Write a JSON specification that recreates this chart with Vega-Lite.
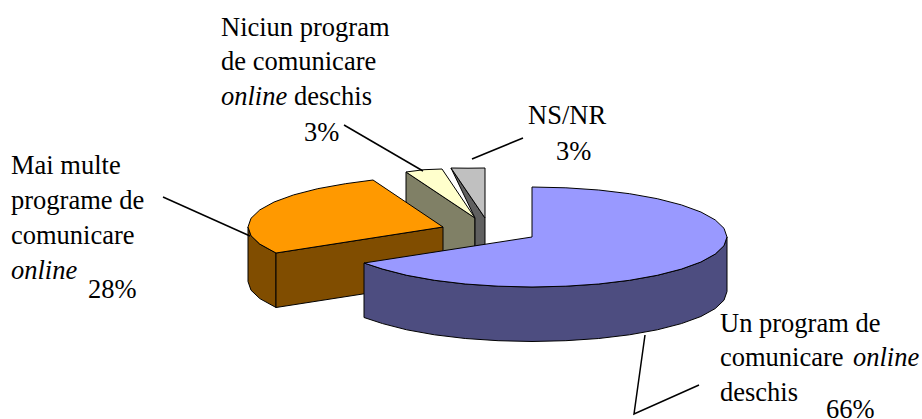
{
  "$schema": "https://vega.github.io/schema/vega-lite/v6.json",
  "width": 922,
  "height": 419,
  "padding": 0,
  "autosize": {"type": "none"},
  "background": "white",
  "config": {"view": {"stroke": null}},
  "datasets": {
    "faces": [
      {"face":"Niciun program - side","n":0,"x":406,"y":172},{"face":"Niciun program - side","n":1,"x":475,"y":218},{"face":"Niciun program - side","n":2,"x":475,"y":272.5},{"face":"Niciun program - side","n":3,"x":406,"y":226.5},{"face":"Niciun program - side","n":4,"x":406,"y":172},
      {"face":"Niciun program - top","n":0,"x":406,"y":172},{"face":"Niciun program - top","n":1,"x":424,"y":169.7},{"face":"Niciun program - top","n":2,"x":442,"y":169},{"face":"Niciun program - top","n":3,"x":475,"y":218},{"face":"Niciun program - top","n":4,"x":406,"y":172},
      {"face":"NS/NR - side","n":0,"x":451,"y":168},{"face":"NS/NR - side","n":1,"x":485,"y":218},{"face":"NS/NR - side","n":2,"x":485,"y":272.5},{"face":"NS/NR - side","n":3,"x":475,"y":272.5},{"face":"NS/NR - side","n":4,"x":475,"y":218},{"face":"NS/NR - side","n":5,"x":451,"y":168},
      {"face":"NS/NR - top","n":0,"x":451,"y":168},{"face":"NS/NR - top","n":1,"x":468,"y":168.2},{"face":"NS/NR - top","n":2,"x":485,"y":168},{"face":"NS/NR - top","n":3,"x":485,"y":218},{"face":"NS/NR - top","n":4,"x":451,"y":168},
      {"face":"Mai multe - rim","n":0,"x":248,"y":227},{"face":"Mai multe - rim","n":1,"x":251,"y":235.7},{"face":"Mai multe - rim","n":2,"x":259.8,"y":244.1},{"face":"Mai multe - rim","n":3,"x":276,"y":253},{"face":"Mai multe - rim","n":4,"x":276,"y":307.5},{"face":"Mai multe - rim","n":5,"x":259.8,"y":298.6},{"face":"Mai multe - rim","n":6,"x":251,"y":290.2},{"face":"Mai multe - rim","n":7,"x":248,"y":281.5},{"face":"Mai multe - rim","n":8,"x":248,"y":227},
      {"face":"Mai multe - cut","n":0,"x":276,"y":253},{"face":"Mai multe - cut","n":1,"x":443,"y":227},{"face":"Mai multe - cut","n":2,"x":443,"y":281.5},{"face":"Mai multe - cut","n":3,"x":276,"y":307.5},{"face":"Mai multe - cut","n":4,"x":276,"y":253},
      {"face":"Mai multe - top","n":0,"x":373,"y":180},{"face":"Mai multe - top","n":1,"x":345.5,"y":183.7},{"face":"Mai multe - top","n":2,"x":317.7,"y":188.7},{"face":"Mai multe - top","n":3,"x":293.6,"y":194.9},{"face":"Mai multe - top","n":4,"x":274.1,"y":202},{"face":"Mai multe - top","n":5,"x":259.8,"y":209.9},{"face":"Mai multe - top","n":6,"x":251,"y":218.3},{"face":"Mai multe - top","n":7,"x":248,"y":227},{"face":"Mai multe - top","n":8,"x":251,"y":235.7},{"face":"Mai multe - top","n":9,"x":259.8,"y":244.1},{"face":"Mai multe - top","n":10,"x":276,"y":253},{"face":"Mai multe - top","n":11,"x":443,"y":227},{"face":"Mai multe - top","n":12,"x":373,"y":180},
      {"face":"Un program - rim","n":0,"x":364,"y":263},{"face":"Un program - rim","n":1,"x":382.6,"y":269.1},{"face":"Un program - rim","n":2,"x":406.7,"y":275.3},{"face":"Un program - rim","n":3,"x":434.5,"y":280.3},{"face":"Un program - rim","n":4,"x":465.3,"y":284},{"face":"Un program - rim","n":5,"x":498.1,"y":286.2},{"face":"Un program - rim","n":6,"x":532,"y":287},{"face":"Un program - rim","n":7,"x":565.9,"y":286.2},{"face":"Un program - rim","n":8,"x":598.7,"y":284},{"face":"Un program - rim","n":9,"x":629.5,"y":280.3},{"face":"Un program - rim","n":10,"x":657.3,"y":275.3},{"face":"Un program - rim","n":11,"x":681.4,"y":269.1},{"face":"Un program - rim","n":12,"x":700.9,"y":262},{"face":"Un program - rim","n":13,"x":715.2,"y":254.1},{"face":"Un program - rim","n":14,"x":724,"y":245.7},{"face":"Un program - rim","n":15,"x":727,"y":237},
      {"face":"Un program - rim","n":16,"x":727,"y":291.5},{"face":"Un program - rim","n":17,"x":724,"y":300.2},{"face":"Un program - rim","n":18,"x":715.2,"y":308.6},{"face":"Un program - rim","n":19,"x":700.9,"y":316.5},{"face":"Un program - rim","n":20,"x":681.4,"y":323.6},{"face":"Un program - rim","n":21,"x":657.3,"y":329.8},{"face":"Un program - rim","n":22,"x":629.5,"y":334.8},{"face":"Un program - rim","n":23,"x":598.7,"y":338.5},{"face":"Un program - rim","n":24,"x":565.9,"y":340.7},{"face":"Un program - rim","n":25,"x":532,"y":341.5},{"face":"Un program - rim","n":26,"x":498.1,"y":340.7},{"face":"Un program - rim","n":27,"x":465.3,"y":338.5},{"face":"Un program - rim","n":28,"x":434.5,"y":334.8},{"face":"Un program - rim","n":29,"x":406.7,"y":329.8},{"face":"Un program - rim","n":30,"x":382.6,"y":323.6},{"face":"Un program - rim","n":31,"x":364,"y":317.5},{"face":"Un program - rim","n":32,"x":364,"y":263},
      {"face":"Un program - top","n":0,"x":532,"y":187},{"face":"Un program - top","n":1,"x":565.9,"y":187.8},{"face":"Un program - top","n":2,"x":598.7,"y":190},{"face":"Un program - top","n":3,"x":629.5,"y":193.7},{"face":"Un program - top","n":4,"x":657.3,"y":198.7},{"face":"Un program - top","n":5,"x":681.4,"y":204.9},{"face":"Un program - top","n":6,"x":700.9,"y":212},{"face":"Un program - top","n":7,"x":715.2,"y":219.9},{"face":"Un program - top","n":8,"x":724,"y":228.3},{"face":"Un program - top","n":9,"x":727,"y":237},{"face":"Un program - top","n":10,"x":724,"y":245.7},{"face":"Un program - top","n":11,"x":715.2,"y":254.1},{"face":"Un program - top","n":12,"x":700.9,"y":262},{"face":"Un program - top","n":13,"x":681.4,"y":269.1},{"face":"Un program - top","n":14,"x":657.3,"y":275.3},{"face":"Un program - top","n":15,"x":629.5,"y":280.3},{"face":"Un program - top","n":16,"x":598.7,"y":284},{"face":"Un program - top","n":17,"x":565.9,"y":286.2},{"face":"Un program - top","n":18,"x":532,"y":287},{"face":"Un program - top","n":19,"x":498.1,"y":286.2},{"face":"Un program - top","n":20,"x":465.3,"y":284},{"face":"Un program - top","n":21,"x":434.5,"y":280.3},{"face":"Un program - top","n":22,"x":406.7,"y":275.3},{"face":"Un program - top","n":23,"x":382.6,"y":269.1},{"face":"Un program - top","n":24,"x":364,"y":263},{"face":"Un program - top","n":25,"x":532,"y":237},{"face":"Un program - top","n":26,"x":532,"y":187}
    ],
    "leaders": [
      {"to":"Niciun program","n":0,"x":344,"y":125},{"to":"Niciun program","n":1,"x":423,"y":171},
      {"to":"NS/NR","n":0,"x":472,"y":159},{"to":"NS/NR","n":1,"x":523,"y":138},
      {"to":"Mai multe","n":0,"x":163,"y":197},{"to":"Mai multe","n":1,"x":250,"y":236},
      {"to":"Un program","n":0,"x":645,"y":335},{"to":"Un program","n":1,"x":634,"y":414},{"to":"Un program","n":2,"x":699,"y":385}
    ],
    "labels": [
      {"t":"Niciun program","x":221,"y":36,"i":false},
      {"t":"de comunicare","x":221,"y":70,"i":false},
      {"t":"online","x":221,"y":105,"i":true},
      {"t":"deschis","x":294,"y":105,"i":false},
      {"t":"3%","x":304,"y":141,"i":false},
      {"t":"NS/NR","x":528,"y":124,"i":false},
      {"t":"3%","x":556,"y":160,"i":false},
      {"t":"Mai multe","x":11,"y":174,"i":false},
      {"t":"programe de","x":11,"y":209,"i":false},
      {"t":"comunicare","x":11,"y":244,"i":false},
      {"t":"online","x":11,"y":279,"i":true},
      {"t":"28%","x":88,"y":298,"i":false},
      {"t":"Un program de","x":720,"y":332,"i":false},
      {"t":"comunicare","x":720,"y":366,"i":false},
      {"t":"online","x":853,"y":366,"i":true},
      {"t":"deschis","x":720,"y":401,"i":false},
      {"t":"66%","x":826,"y":418,"i":false}
    ]
  },
  "encoding": {
    "x": {"field": "x", "type": "quantitative", "scale": {"domain": [0, 922], "nice": false, "zero": false}, "axis": null},
    "y": {"field": "y", "type": "quantitative", "scale": {"domain": [419, 0], "nice": false, "zero": false}, "axis": null}
  },
  "layer": [
    {
      "data": {"name": "faces"},
      "mark": {"type": "line", "stroke": "black", "strokeWidth": 1, "strokeJoin": "round"},
      "encoding": {
        "order": {"field": "n", "type": "quantitative"},
        "fill": {
          "field": "face",
          "type": "nominal",
          "legend": null,
          "scale": {
            "domain": ["Niciun program - side","Niciun program - top","NS/NR - side","NS/NR - top","Mai multe - rim","Mai multe - cut","Mai multe - top","Un program - rim","Un program - top"],
            "range": ["#808066","#ffffcc","#606060","#c0c0c0","#804d00","#804d00","#ff9900","#4d4d80","#9999ff"]
          }
        }
      }
    },
    {
      "data": {"name": "leaders"},
      "mark": {"type": "line", "stroke": "black", "strokeWidth": 1.5},
      "encoding": {
        "detail": {"field": "to"},
        "order": {"field": "n", "type": "quantitative"}
      }
    },
    {
      "data": {"name": "labels"},
      "transform": [{"filter": "!datum.i"}],
      "mark": {"type": "text", "font": "Liberation Serif", "fontSize": 26.5, "align": "left", "baseline": "alphabetic", "fill": "black"},
      "encoding": {"text": {"field": "t"}}
    },
    {
      "data": {"name": "labels"},
      "transform": [{"filter": "datum.i"}],
      "mark": {"type": "text", "font": "Liberation Serif", "fontSize": 26.5, "fontStyle": "italic", "align": "left", "baseline": "alphabetic", "fill": "black"},
      "encoding": {"text": {"field": "t"}}
    }
  ]
}
